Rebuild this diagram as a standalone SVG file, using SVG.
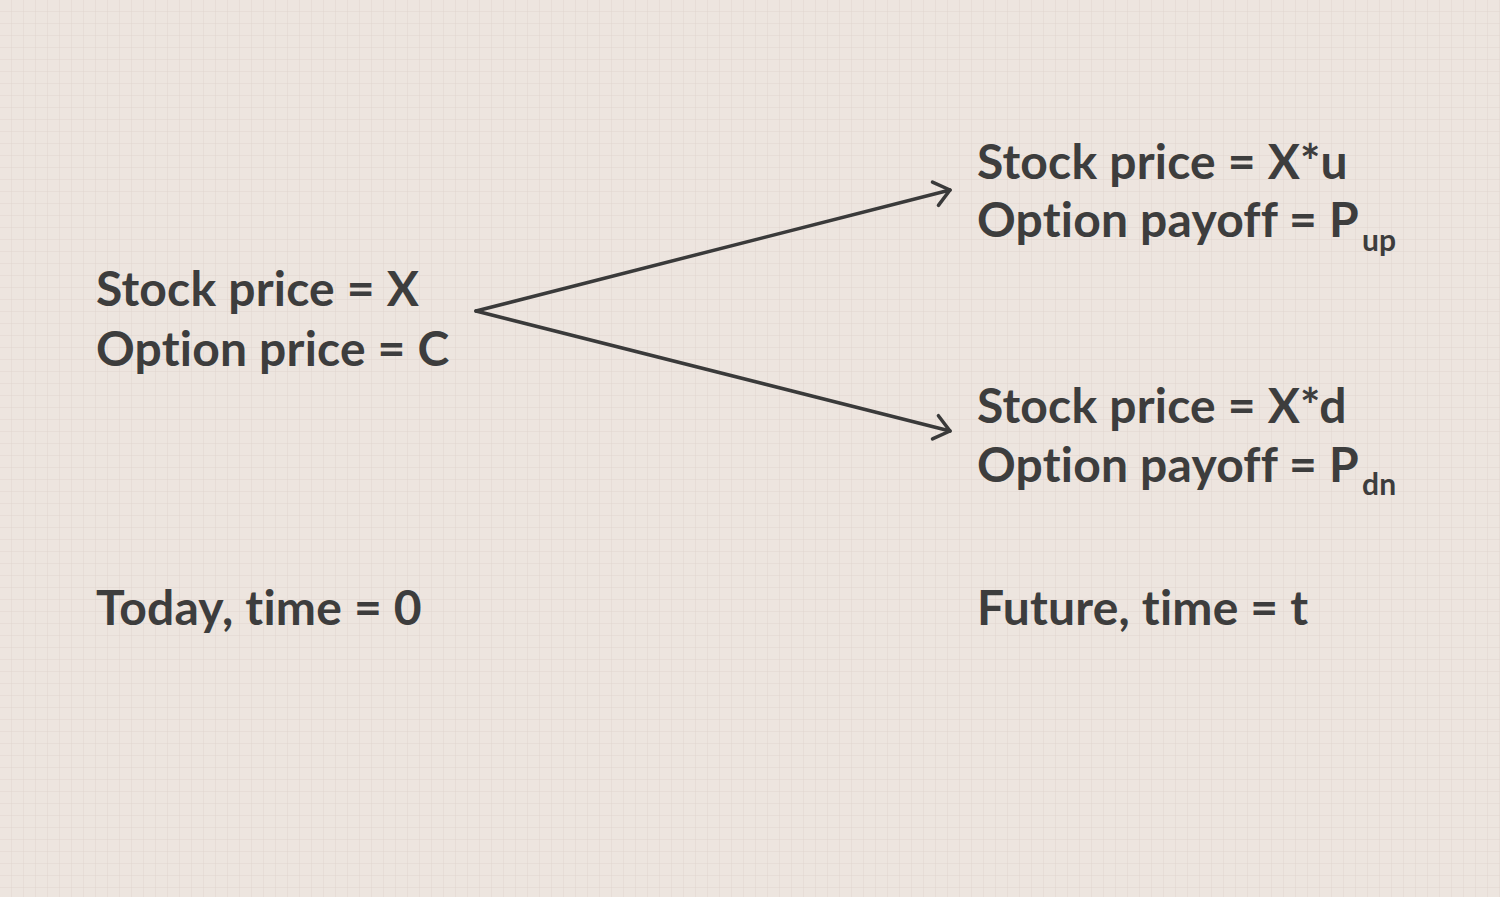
<svg xmlns="http://www.w3.org/2000/svg" width="1500" height="897" viewBox="0 0 1500 897">
<defs>
<pattern id="grid" width="12" height="12" patternUnits="userSpaceOnUse">
<path d="M12 0V12M0 12H12" fill="none" stroke="#dcd1ca" stroke-width="1"/>
</pattern>
<marker id="arr2" markerWidth="30" markerHeight="30" viewBox="0 0 30 30" refX="27" refY="15" orient="auto" markerUnits="userSpaceOnUse">
<path d="M12 3L27 15L12 27" fill="none" stroke="#3a3a3a" stroke-width="3.5" stroke-linecap="round" stroke-linejoin="round"/>
</marker>
</defs>
<style>
.t{font-family:Lato,"Liberation Sans",sans-serif;font-weight:bold;font-size:48px;fill:#3d3d3d;font-variant-ligatures:none;font-feature-settings:"liga" 0;letter-spacing:0.2px}
.s{font-size:30px}
.c{fill:none;stroke:#3a3a3a;stroke-width:3.5;stroke-linecap:round}
</style>
<rect width="1500" height="897" fill="#ede5df"/>
<rect width="1500" height="897" fill="url(#grid)" opacity="0.8"/>
<g id="today">
<text class="t" x="96" y="306">Stock price = X</text>
<text class="t" x="96" y="366">Option price = C</text>
</g>
<g id="up">
<text class="t" x="977" y="179">Stock price = X*u</text>
<text class="t" x="977" y="237">Option payoff = P<tspan class="s" dx="3" dy="14">up</tspan></text>
</g>
<g id="down">
<text class="t" x="977" y="423">Stock price = X*d</text>
<text class="t" x="977" y="482">Option payoff = P<tspan class="s" dx="3" dy="13">dn</tspan></text>
</g>
<g id="label-today">
<text class="t" x="96" y="625">Today, time = <tspan letter-spacing="0.5">0</tspan></text>
</g>
<g id="label-future">
<text class="t" x="977" y="625">Future, time = t</text>
</g>
<g id="connectors">
<path class="c" d="M476 311L950 190" marker-end="url(#arr2)"/>
<path class="c" d="M476 311L950 431" marker-end="url(#arr2)"/>
</g>
</svg>
